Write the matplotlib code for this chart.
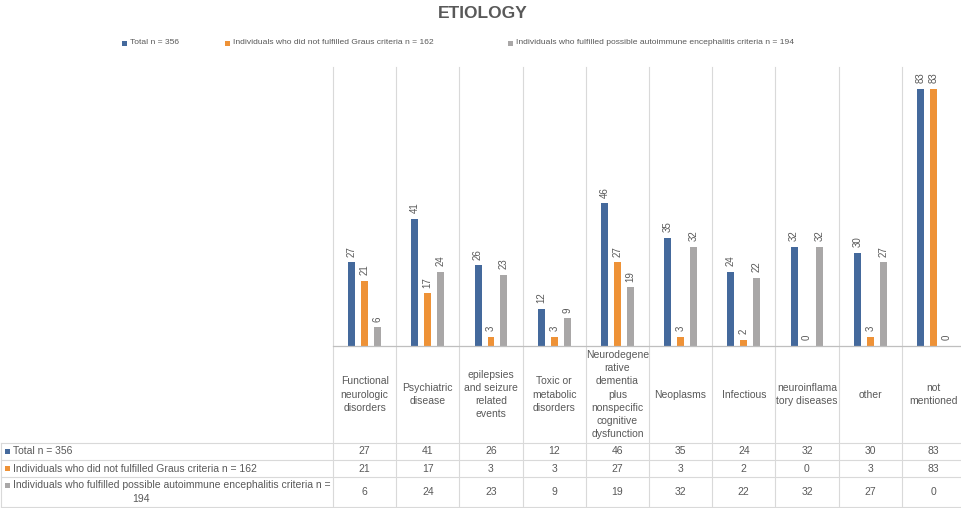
import numpy as np
import matplotlib.pyplot as plt
import matplotlib.transforms as mtransforms
from matplotlib.lines import Line2D
from matplotlib.patches import Rectangle

# data
categories = ["Functional\nneurologic\ndisorders", "Psychiatric\ndisease",
              "epilepsies\nand seizure\nrelated\nevents", "Toxic or\nmetabolic\ndisorders",
              "Neurodegene\nrative\ndementia\nplus\nnonspecific\ncognitive\ndysfunction",
              "Neoplasms", "Infectious", "neuroinflama\ntory diseases", "other",
              "not\nmentioned"]
total = [27, 41, 26, 12, 46, 35, 24, 32, 30, 83]
not_graus = [21, 17, 3, 3, 27, 3, 2, 0, 3, 83]
possible_ae = [6, 24, 23, 9, 19, 32, 22, 32, 27, 0]
series_names = ["Total n = 356",
                "Individuals who did not fulfilled Graus criteria n = 162",
                "Individuals who fulfilled possible autoimmune encephalitis criteria n = 194"]
table_names = ["Total n = 356",
               "Individuals who did not fulfilled Graus criteria n = 162",
               "Individuals who fulfilled possible autoimmune encephalitis criteria n =\n194"]
colors = ["#44699c", "#ee9237", "#a9a7a7"]

W, H = 961, 508
plt.rcParams['font.family'] = ['Liberation Sans', 'DejaVu Sans']
fig = plt.figure(figsize=(W / 100, H / 100), dpi=100)
fig.patch.set_facecolor("white")

def fx(px):
    return px / W

def fy(py):
    return 1 - py / H

x_left, cat_w = 333, 63.2
n = len(categories)
y_base, y_top = 346, 67
ax = fig.add_axes([fx(x_left), fy(y_base), n * cat_w / W, (y_base - y_top) / H])
ax.set_xlim(0, n)
ax.set_ylim(0, 90)
ax.axis("off")

x = np.arange(n) + 0.5
bw, off = 0.11, 0.205
grid_c = "#d9d9d9"
txt_c = "#595959"

for i, (vals, c) in enumerate(zip([total, not_graus, possible_ae], colors)):
    pos = x + (i - 1) * off
    ax.bar(pos, vals, width=bw, color=c, zorder=3)
    for xp, v in zip(pos, vals):
        ax.annotate(str(v), (xp, v), xytext=(0, 4), textcoords="offset points",
                    rotation=90, ha="center", va="bottom", fontsize=7,
                    color=txt_c, zorder=4)

# table & grid lines
bt = mtransforms.blended_transform_factory(ax.transData, fig.transFigure)
for b in range(n + 1):
    fig.add_artist(Line2D([b, b], [fy(y_top), fy(H)], transform=bt, color=grid_c, lw=0.8))
x_right = ax.transData.transform((n, 0))[0] / fig.dpi / fig.get_figwidth()
fig.add_artist(Line2D([fx(x_left), x_right], [fy(y_base)] * 2, transform=fig.transFigure,
                      color="#bfbfbf", lw=0.9))
row_y = [443, 460, 477, 507]
for ry in row_y:
    fig.add_artist(Line2D([fx(1), x_right], [fy(ry)] * 2, transform=fig.transFigure,
                          color=grid_c, lw=0.8))
fig.add_artist(Line2D([fx(1), fx(1)], [fy(443), fy(507)], transform=fig.transFigure,
                      color=grid_c, lw=0.8))

for xi, lab in zip(x, categories):
    fig.text(xi, fy((y_base + 443) / 2), lab, transform=bt, ha="center", va="center",
             fontsize=7.5, color=txt_c, linespacing=1.4)

for r, (vals, name, c) in enumerate(zip([total, not_graus, possible_ae], table_names, colors)):
    yc = fy((row_y[r] + row_y[r + 1]) / 2)
    for xi, v in zip(x, vals):
        fig.text(xi, yc, str(v), transform=bt, ha="center", va="center", fontsize=7.5, color=txt_c)
    ty = yc if r < 2 else fy(row_y[r] + 8.5)
    fig.add_artist(Rectangle((fx(5), ty - 2.5 / H), 5 / W, 5 / H, transform=fig.transFigure,
                             color=c, lw=0))
    if r < 2:
        fig.text(fx(13), yc, name, ha="left", va="center", fontsize=7.5, color=txt_c)
    else:
        fig.text(fx(13), ty, name.split("\n")[0], ha="left", va="center", fontsize=7.5, color=txt_c)
        fig.text(fx(141), fy(row_y[r] + 22), name.split("\n")[1], ha="center", va="center",
                 fontsize=7.5, color=txt_c)

# title and legend
fig.text(fx(483), fy(14), "ETIOLOGY", ha="center", va="center", fontsize=12.5,
         fontweight="bold", color=txt_c)
leg_x = [122, 225, 508]
for lx, name, c in zip(leg_x, series_names, colors):
    fig.add_artist(Rectangle((fx(lx), fy(43) - 2.5 / H), 5 / W, 5 / H,
                             transform=fig.transFigure, color=c, lw=0))
    fig.text(fx(lx + 8), fy(43), name, ha="left", va="center", fontsize=6.1,
             color=txt_c, family=['Liberation Sans Narrow', 'Liberation Sans', 'DejaVu Sans'])

fig.savefig("out.png", dpi=100)
